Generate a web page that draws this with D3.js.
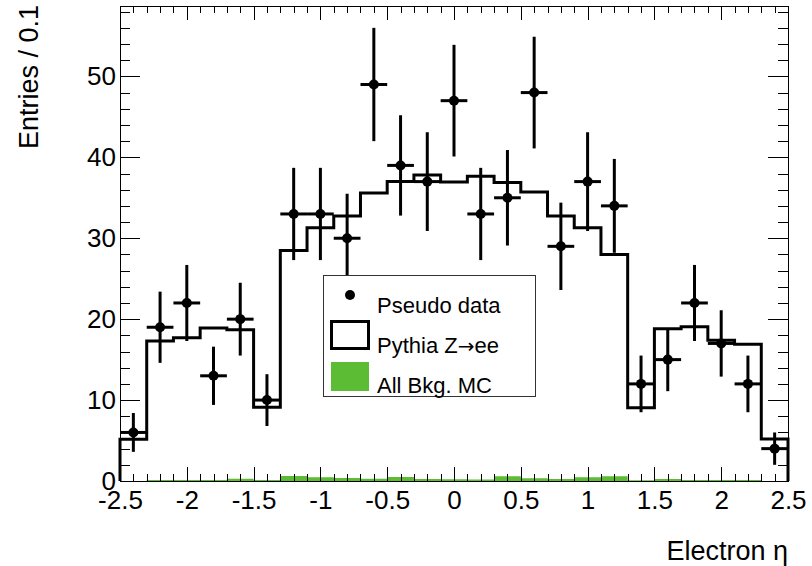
<!DOCTYPE html>
<head>
  <meta charset="utf-8">
  <script src="https://cdn.jsdelivr.net/npm/d3@7"></script>
  <style>
    body { margin: 0; background: #fff; }
    text { font-family: "Liberation Sans", Arial, sans-serif; }
  </style>
</head>
<body>
  <script>
    // bin centres (electron eta), bin width 0.2
    var etaCenters = [-2.4, -2.2, -2.0, -1.8, -1.6, -1.4, -1.2, -1.0, -0.8, -0.6, -0.4, -0.2, 0.0,
                      0.2, 0.4, 0.6, 0.8, 1.0, 1.2, 1.4, 1.6, 1.8, 2.0, 2.2, 2.4];
    var binHalf = 0.1;

    // pseudo data and its errors
    var dataCounts = [6, 19, 22, 13, 20, 10, 33, 33, 30, 49, 39, 37, 47,
                      33, 35, 48, 29, 37, 34, 12, 15, 22, 17, 12, 4];
    var dataErr = [2.4, 4.4, 4.7, 3.6, 4.5, 3.2, 5.7, 5.7, 5.5, 7.0, 6.2, 6.1, 6.9,
                   5.7, 5.9, 6.9, 5.4, 6.1, 5.8, 3.5, 3.9, 4.7, 4.1, 3.5, 2.0];

    // Pythia Z->ee MC
    var mcZee = [5.15, 17.3, 17.7, 18.9, 18.7, 9.1, 28.5, 31.3, 32.75, 35.6, 37.0, 37.8, 36.95,
                 37.65, 36.9, 35.7, 32.75, 31.3, 28.0, 9.05, 18.8, 19.05, 17.4, 16.9, 5.2];

    // all background MC
    var bkgMC = [0, 0.12, 0.12, 0.12, 0.29, 0.12, 0.62, 0.45, 0.37, 0.29, 0.49, 0.25, 0.22,
                 0.2, 0.58, 0.33, 0.25, 0.45, 0.58, 0.08, 0.25, 0.12, 0.12, 0.12, 0];

    var xTicks = [-2.5, -2, -1.5, -1, -0.5, 0, 0.5, 1, 1.5, 2, 2.5];
    var yTicks = [0, 10, 20, 30, 40, 50];
    var legendLabels = [["Pseudo data"], ["Pythia Z", "\u2192", "ee"], ["All Bkg. MC"]];

    var margin = {top: 6, right: 24, bottom: 85, left: 120};
    var W = 812, H = 566;
    var width = W - margin.left - margin.right,
        height = H - margin.top - margin.bottom;

    var svg = d3.select("body").append("svg")
      .attr("width", W)
      .attr("height", H);

    var x = d3.scaleLinear().domain([-2.5, 2.5]).range([margin.left, margin.left + width]);
    var y = d3.scaleLinear().domain([0, 58.7]).range([margin.top + height, margin.top]);

    var green = "#5cbd34";

    // step outlines: points at lower bin edges, plus closing points
    function stepPoints(vals) {
      var pts = [[-2.5, 0]];
      vals.forEach(function(v, i) { pts.push([etaCenters[i] - binHalf, v]); });
      pts.push([2.5, vals[vals.length - 1]]);
      pts.push([2.5, 0]);
      return pts;
    }

    // background fill
    svg.append("path")
      .datum(stepPoints(bkgMC))
      .attr("fill", green)
      .attr("d", d3.area().curve(d3.curveStepAfter)
        .x(function(d) { return x(d[0]); })
        .y0(y(0))
        .y1(function(d) { return y(d[1]); }));

    // Z->ee outline
    svg.append("path")
      .datum(stepPoints(mcZee))
      .attr("fill", "none")
      .attr("stroke", "#000")
      .attr("stroke-width", 3)
      .attr("d", d3.line().curve(d3.curveStepAfter)
        .x(function(d) { return x(d[0]); })
        .y(function(d) { return y(d[1]); }));

    // data points
    var pts = svg.append("g").selectAll("g").data(etaCenters)
      .enter().append("g");
    pts.append("line")
      .attr("x1", function(d) { return x(d - binHalf); })
      .attr("x2", function(d) { return x(d + binHalf); })
      .attr("y1", function(d, i) { return y(dataCounts[i]); })
      .attr("y2", function(d, i) { return y(dataCounts[i]); })
      .attr("stroke", "#000").attr("stroke-width", 3);
    pts.append("line")
      .attr("x1", function(d) { return x(d); })
      .attr("x2", function(d) { return x(d); })
      .attr("y1", function(d, i) { return y(Math.max(0, dataCounts[i] - dataErr[i])); })
      .attr("y2", function(d, i) { return y(dataCounts[i] + dataErr[i]); })
      .attr("stroke", "#000").attr("stroke-width", 3);
    pts.append("circle")
      .attr("cx", function(d) { return x(d); })
      .attr("cy", function(d, i) { return y(dataCounts[i]); })
      .attr("r", 5);

    // axes
    var xMinor = d3.range(-25, 26).map(function(d) { return d / 10; });
    var yMinor = d3.range(0, 30).map(function(d) { return d * 2; });

    function addAxis(axis, tx, ty) {
      var g = svg.append("g")
        .attr("transform", "translate(" + tx + "," + ty + ")")
        .call(axis);
      g.select(".domain").remove();
      g.selectAll("line").attr("stroke", "#000").attr("shape-rendering", "crispEdges");
      g.selectAll("text").attr("fill", "#000").style("font-size", "26px")
        .style("font-family", "'Liberation Sans', Arial, sans-serif");
      return g;
    }
    var fmt = function(d) { return String(d); };
    var bottomY = margin.top + height, rightX = margin.left + width;

    addAxis(d3.axisBottom(x).tickValues(xMinor).tickFormat("").tickSize(-7).tickSizeOuter(0), 0, bottomY);
    addAxis(d3.axisBottom(x).tickValues(xTicks).tickFormat(fmt).tickSize(-14).tickSizeOuter(0).tickPadding(10), 0, bottomY);
    addAxis(d3.axisTop(x).tickValues(xMinor).tickFormat("").tickSize(-7).tickSizeOuter(0), 0, margin.top);
    addAxis(d3.axisTop(x).tickValues(xTicks).tickFormat("").tickSize(-14).tickSizeOuter(0), 0, margin.top);

    addAxis(d3.axisLeft(y).tickValues(yMinor).tickFormat("").tickSize(-10).tickSizeOuter(0), margin.left, 0);
    addAxis(d3.axisLeft(y).tickValues(yTicks).tickFormat(fmt).tickSize(-20).tickSizeOuter(0).tickPadding(4), margin.left, 0);
    addAxis(d3.axisRight(y).tickValues(yMinor).tickFormat("").tickSize(-10).tickSizeOuter(0), rightX, 0);
    addAxis(d3.axisRight(y).tickValues(yTicks).tickFormat("").tickSize(-20).tickSizeOuter(0), rightX, 0);

    // frame
    svg.append("rect")
      .attr("x", margin.left + 0.5).attr("y", margin.top + 0.5)
      .attr("width", width).attr("height", height)
      .attr("fill", "none").attr("stroke", "#000").attr("stroke-width", 1);

    // axis titles
    svg.append("text")
      .attr("x", rightX).attr("y", 560)
      .attr("text-anchor", "end")
      .style("font-size", "27px")
      .text("Electron \u03b7");
    svg.append("text")
      .attr("transform", "translate(38,5) rotate(-90)")
      .attr("text-anchor", "end")
      .style("font-size", "27px")
      .text("Entries / 0.1");

    // legend
    var leg = svg.append("g");
    leg.append("rect")
      .attr("x", 323.5).attr("y", 275.5).attr("width", 212).attr("height", 121)
      .attr("fill", "#fff").attr("stroke", "#333").attr("stroke-width", 1);
    leg.append("circle").attr("cx", 350).attr("cy", 295).attr("r", 5);
    leg.append("rect")
      .attr("x", 331.5).attr("y", 321.5).attr("width", 37).attr("height", 27)
      .attr("fill", "#fff").attr("stroke", "#000").attr("stroke-width", 3);
    leg.append("rect")
      .attr("x", 331).attr("y", 362).attr("width", 38).attr("height", 29)
      .attr("fill", green);
    var labs = leg.selectAll("text.lab").data(legendLabels)
      .enter().append("text")
      .attr("class", "lab")
      .attr("x", 377)
      .attr("y", function(d, i) { return 313 + i * 40; })
      .style("font-size", "22px");
    labs.selectAll("tspan").data(function(d) { return d; })
      .enter().append("tspan")
      .style("font-family", function(d) { return d === "\u2192" ? "'DejaVu Sans', sans-serif" : null; })
      .style("font-size", function(d) { return d === "\u2192" ? "20px" : null; })
      .text(function(d) { return d; });
  </script>
</body>
